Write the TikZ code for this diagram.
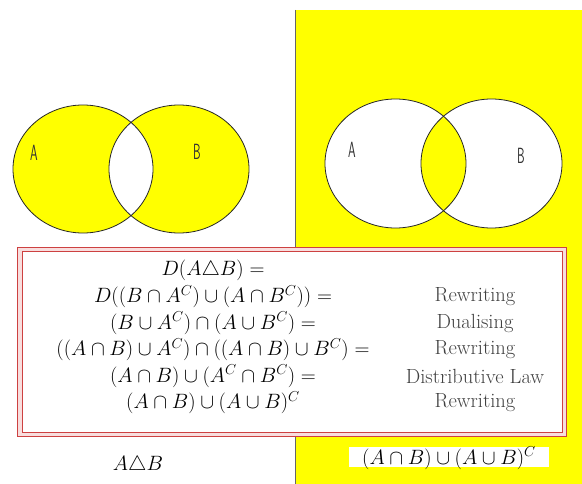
\documentclass[tikz,border=0pt]{standalone}
\usepackage{amssymb}
\usetikzlibrary{calc}
\definecolor{venny}{RGB}{255,255,0}
\definecolor{boxred}{RGB}{205,65,65}
\definecolor{boxpink}{RGB}{248,222,222}
\tikzset{
  vennline/.style={draw=black!85, line width=0.8pt},
  setlabel/.style={font=\fontsize{22}{22}\sffamily, xscale=0.55, inner sep=0pt, text=black!80},
  mathtext/.style={font=\fontsize{20.5}{24}\selectfont, inner sep=0pt, anchor=center},
  ruletext/.style={font=\fontsize{20.5}{24}\selectfont, inner sep=0pt, anchor=center, text=black!75},
  boxline/.style={draw=boxred, line width=1pt},
}
\begin{document}
\begin{tikzpicture}[x=1pt,y=-1pt]
\useasboundingbox (0,0) rectangle (582,484);
\fill[white] (0,0) rectangle (582,484);
% yellow half
\fill[venny] (295,10) rectangle (582,484);
\draw[black!60, line width=0.9pt] (295,10) -- (295,484);

% left Venn: symmetric difference
\fill[venny] (83,169) ellipse [x radius=70, y radius=64];
\fill[venny] (179,169) ellipse [x radius=70, y radius=64];
\begin{scope}
  \clip (83,169) ellipse [x radius=70, y radius=64];
  \fill[white] (179,169) ellipse [x radius=70, y radius=64];
\end{scope}
\draw[vennline] (83,169) ellipse [x radius=70, y radius=64];
\draw[vennline] (179,169) ellipse [x radius=70, y radius=64];
\node[setlabel] (lA) at (34,153) {A};
\node[setlabel] (lB) at (197,152) {B};

% right Venn
\fill[white] (395.5,163.5) ellipse [x radius=70.5, y radius=64.5];
\fill[white] (491.5,163.5) ellipse [x radius=70.5, y radius=64.5];
\begin{scope}
  \clip (395.5,163.5) ellipse [x radius=70.5, y radius=64.5];
  \fill[venny] (491.5,163.5) ellipse [x radius=70.5, y radius=64.5];
\end{scope}
\draw[vennline] (395.5,163.5) ellipse [x radius=70.5, y radius=64.5];
\draw[vennline] (491.5,163.5) ellipse [x radius=70.5, y radius=64.5];
\node[setlabel] (rA) at (352,150) {A};
\node[setlabel] (rB) at (521,156) {B};

% proof box
\fill[boxpink] (17,247) rectangle (567,437);
\fill[white] (22,252) rectangle (562,432);
\draw[boxline] (17.5,247.5) rectangle (566.5,436.5);
\draw[boxline] (22,252) rectangle (562,432);

\node[mathtext] (m1) at (213,270) {$D(A\triangle B) =$};
\node[mathtext] (m2) at (213,296.5) {$D((B\cap A^C)\cup(A\cap B^C)) =$};
\node[mathtext] (m3) at (213,323) {$(B\cup A^C)\cap(A\cup B^C) =$};
\node[mathtext] (m4) at (213,349.5) {$((A\cap B)\cup A^C)\cap((A\cap B)\cup B^C) =$};
\node[mathtext] (m5) at (213,376) {$(A\cap B)\cup(A^C\cap B^C) =$};
\node[mathtext] (m6) at (213,402.5) {$(A\cap B)\cup(A\cup B)^C$};

\node[ruletext] (r2) at (475,296.5) {Rewriting};
\node[ruletext] (r3) at (475,323) {Dualising};
\node[ruletext] (r4) at (475,349.5) {Rewriting};
\node[ruletext] (r5) at (475,376) {Distributive Law};
\node[ruletext] (r6) at (475,402.5) {Rewriting};

% bottom captions
\node[mathtext] (capL) at (138,465) {$A\triangle B$};
\fill[white] (349,447) rectangle (549,467);
\node[mathtext] (capR) at (449,458) {$(A\cap B)\cup(A\cup B)^C$};
\end{tikzpicture}
\end{document}
